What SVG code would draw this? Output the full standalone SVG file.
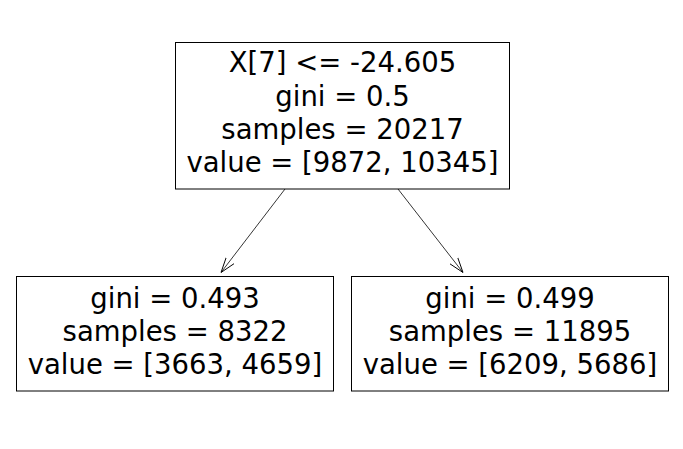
<svg xmlns="http://www.w3.org/2000/svg" width="683" height="449" viewBox="0 0 683 449">
<style>
.box{fill:#ffffff;stroke:#000000;stroke-width:1}
.t{font-family:"DejaVu Sans",sans-serif;font-size:27.5px;fill:#000000;text-anchor:middle}
.e{stroke:#000000;stroke-width:0.8;fill:none}
</style>
<defs>
<marker id="arr" viewBox="0 0 15 12" refX="15" refY="6" markerWidth="15" markerHeight="12" markerUnits="userSpaceOnUse" orient="auto">
<path d="M0,1 L15,6 L0,11" fill="none" stroke="#000000" stroke-width="0.9"/>
</marker>
</defs>
<rect width="683" height="449" fill="#ffffff"/>
<g id="connectors">
<line class="e" x1="285" y1="189" x2="221" y2="272.5" marker-end="url(#arr)"/>
<line class="e" x1="398" y1="189" x2="463" y2="272.5" marker-end="url(#arr)"/>
</g>
<g id="root">
<rect class="box" x="175.5" y="42.5" width="334" height="146.5"/>
<text class="t" x="342.5" y="72.3">X[7] &lt;= -24.605</text>
<text class="t" x="342.5" y="106">gini = 0.5</text>
<text class="t" x="342.5" y="139">samples = 20217</text>
<text class="t" x="342.5" y="172.3">value = [9872, 10345]</text>
</g>
<g id="left">
<rect class="box" x="16.5" y="276.5" width="317" height="114.5"/>
<text class="t" x="175" y="307.5">gini = 0.493</text>
<text class="t" x="175" y="340.5">samples = 8322</text>
<text class="t" x="175" y="373.5">value = [3663, 4659]</text>
</g>
<g id="right">
<rect class="box" x="351.5" y="276.5" width="317" height="114.5"/>
<text class="t" x="510" y="307.5">gini = 0.499</text>
<text class="t" x="510" y="340.5">samples = 11895</text>
<text class="t" x="510" y="373.5">value = [6209, 5686]</text>
</g>
</svg>
